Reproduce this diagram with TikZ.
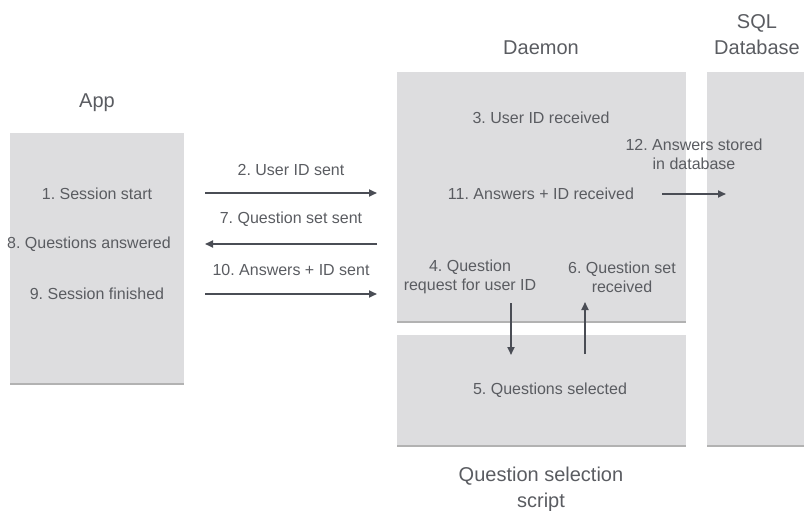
\documentclass[tikz,border=0pt]{standalone}
\usepackage{fontspec}
\setmainfont{Liberation Sans}
\frenchspacing
\usetikzlibrary{arrows.meta,shadows}
\definecolor{boxfill}{HTML}{DDDDDF}
\definecolor{ink}{HTML}{5A5C61}
\definecolor{arrowc}{HTML}{4A4D55}
\tikzset{
  panel/.style={fill=boxfill, draw=none, anchor=north west, inner sep=0pt,
    drop shadow={shadow xshift=0pt, shadow yshift=-1.5pt, opacity=0.3, fill=black}},
  lbl/.style={text=ink, font=\fontsize{16}{19}\selectfont, align=center, inner sep=0pt},
  head/.style={text=ink, font=\fontsize{20}{26}\selectfont, align=center, inner sep=0pt},
  flow/.style={draw=arrowc, line width=1.8pt, -{Triangle[length=8pt,width=7pt]}}
}
\begin{document}
\begin{tikzpicture}[x=1pt, y=-1pt]
  \useasboundingbox (0,0) rectangle (804,511);
  \clip (0,0) rectangle (804,511);

  % panels
  \node[panel, minimum width=174pt, minimum height=250pt] (app) at (10,133) {};
  \node[panel, minimum width=289pt, minimum height=249pt] (daemon) at (397,72) {};
  \node[panel, minimum width=289pt, minimum height=110pt] (qscript) at (397,335) {};
  \node[panel, minimum width=110pt, minimum height=373pt] (sql) at (707,72) {};

  % headings
  \node[head] (happ) at (97,103) {App};
  \node[head] (hdaemon) at (541,48) {Daemon};
  \node[head] (hsql) at (757,35) {SQL\\Database};
  \node[head] (hq) at (541,489) {Question selection\\script};

  % app steps
  \node[lbl] (s1) at (97,194) {1. Session start};
  \node[lbl] (s8) at (89,244) {8. Questions answered};
  \node[lbl] (s9) at (97,294) {9. Session finished};

  % daemon steps
  \node[lbl] (s3) at (541,118) {3. User ID received};
  \node[lbl] (s11) at (541,194) {11. Answers + ID received};
  \node[lbl] (s12) at (694,154) {12. Answers stored\\in database};
  \node[lbl] (s4) at (470,277) {4. Question\\request for user ID};
  \node[lbl] (s6) at (622,277) {6. Question set\\received};
  \node[lbl] (s5) at (550,390) {5. Questions selected};

  % message labels
  \node[lbl] (m2) at (291,170) {2. User ID sent};
  \node[lbl] (m7) at (291,219) {7. Question set sent};
  \node[lbl] (m10) at (291,270) {10. Answers + ID sent};

  % connector ends
  \coordinate (a2s) at (205,193);  \coordinate (a2e) at (377,193);
  \coordinate (a7s) at (377,244);  \coordinate (a7e) at (205,244);
  \coordinate (a10s) at (205,294); \coordinate (a10e) at (377,294);
  \coordinate (a12s) at (662,194); \coordinate (a12e) at (726,194);
  \coordinate (a4s) at (511,303);  \coordinate (a4e) at (511,355);
  \coordinate (a6s) at (585,354);  \coordinate (a6e) at (585,302);

  \draw[flow] (a2s) -- (a2e);
  \draw[flow] (a7s) -- (a7e);
  \draw[flow] (a10s) -- (a10e);
  \draw[flow] (a12s) -- (a12e);
  \draw[flow] (a4s) -- (a4e);
  \draw[flow] (a6s) -- (a6e);
\end{tikzpicture}
\end{document}
